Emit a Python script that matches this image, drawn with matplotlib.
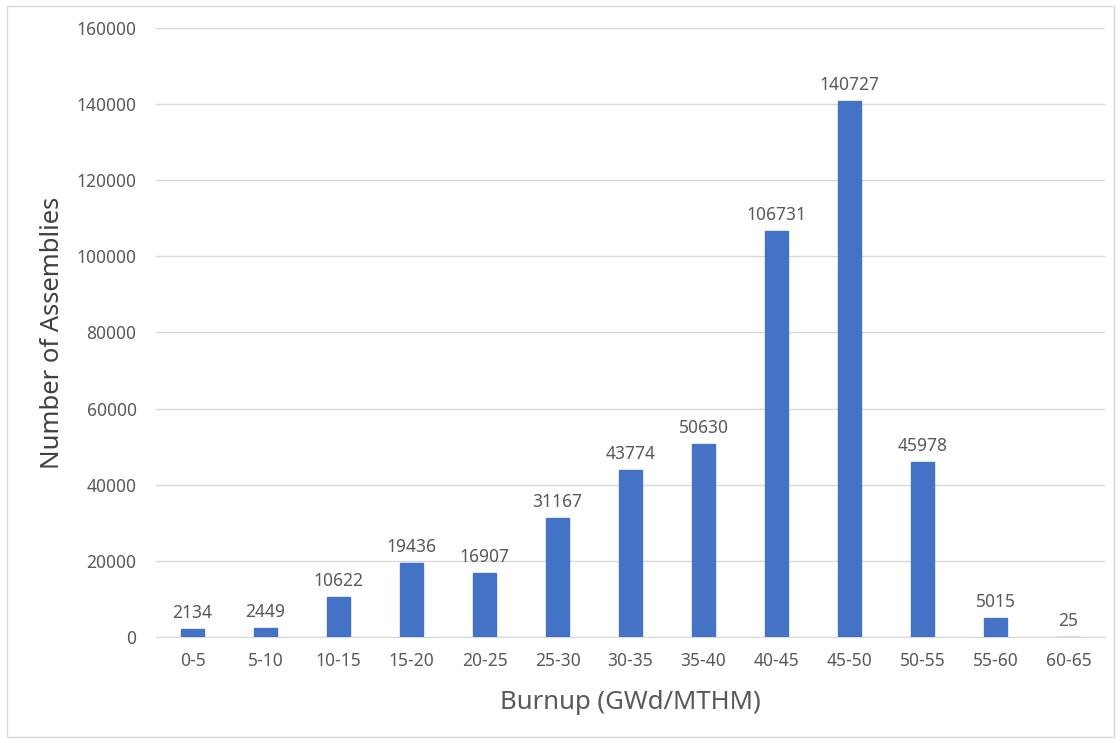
import matplotlib
matplotlib.use("Agg")
import matplotlib.pyplot as plt
from matplotlib.patches import Rectangle

plt.rcParams["font.family"] = ["Noto Sans", "DejaVu Sans"]

bins = ["0-5", "5-10", "10-15", "15-20", "20-25", "25-30", "30-35",
        "35-40", "40-45", "45-50", "50-55", "55-60", "60-65"]
counts = [2134, 2449, 10622, 19436, 16907, 31167, 43774,
          50630, 106731, 140727, 45978, 5015, 25]
yticks = [0, 20000, 40000, 60000, 80000, 100000, 120000, 140000, 160000]

bar_color = "#4472C4"
text_color = "#595959"

fig = plt.figure(figsize=(11.2, 7.43), dpi=100)
ax = fig.add_axes([0.1393, 0.1427, 0.8473, 0.8196])

x = range(len(bins))
ax.bar(x, counts, width=0.31, color=bar_color,
       edgecolor=bar_color, linewidth=1.0, zorder=3)
for xi, v in zip(x, counts):
    ax.annotate(str(v), (xi, v), xytext=(0, 5), textcoords="offset points",
                ha="center", va="bottom", fontsize=12.5, color=text_color)

ax.set_xlim(-0.5, len(bins) - 0.5)
ax.set_ylim(0, 160000)
ax.set_yticks(yticks)
ax.set_yticklabels([str(t) for t in yticks])
ax.set_xticks(list(x))
ax.set_xticklabels(bins)
ax.tick_params(axis="both", length=0, labelsize=12.5, colors=text_color)
ax.tick_params(axis="x", pad=11)
ax.tick_params(axis="y", pad=14)
ax.grid(axis="y", color="#D9D9D9", lw=1, zorder=0)
for s in ["top", "right", "left"]:
    ax.spines[s].set_visible(False)
ax.spines["bottom"].set_color("#D9D9D9")
ax.spines["bottom"].set_zorder(1)

ax.set_xlabel("Burnup (GWd/MTHM)", fontsize=18.5, color=text_color, labelpad=14)
ax.set_ylabel("Number of Assemblies", fontsize=18.5, color="#404040", labelpad=8)

fig.patches.append(Rectangle((0.006, 0.008), 0.989, 0.984, transform=fig.transFigure,
                             fill=False, edgecolor="#D9D9D9", lw=1))

plt.savefig("out.png", dpi=100)
print("Saved: out.png")
